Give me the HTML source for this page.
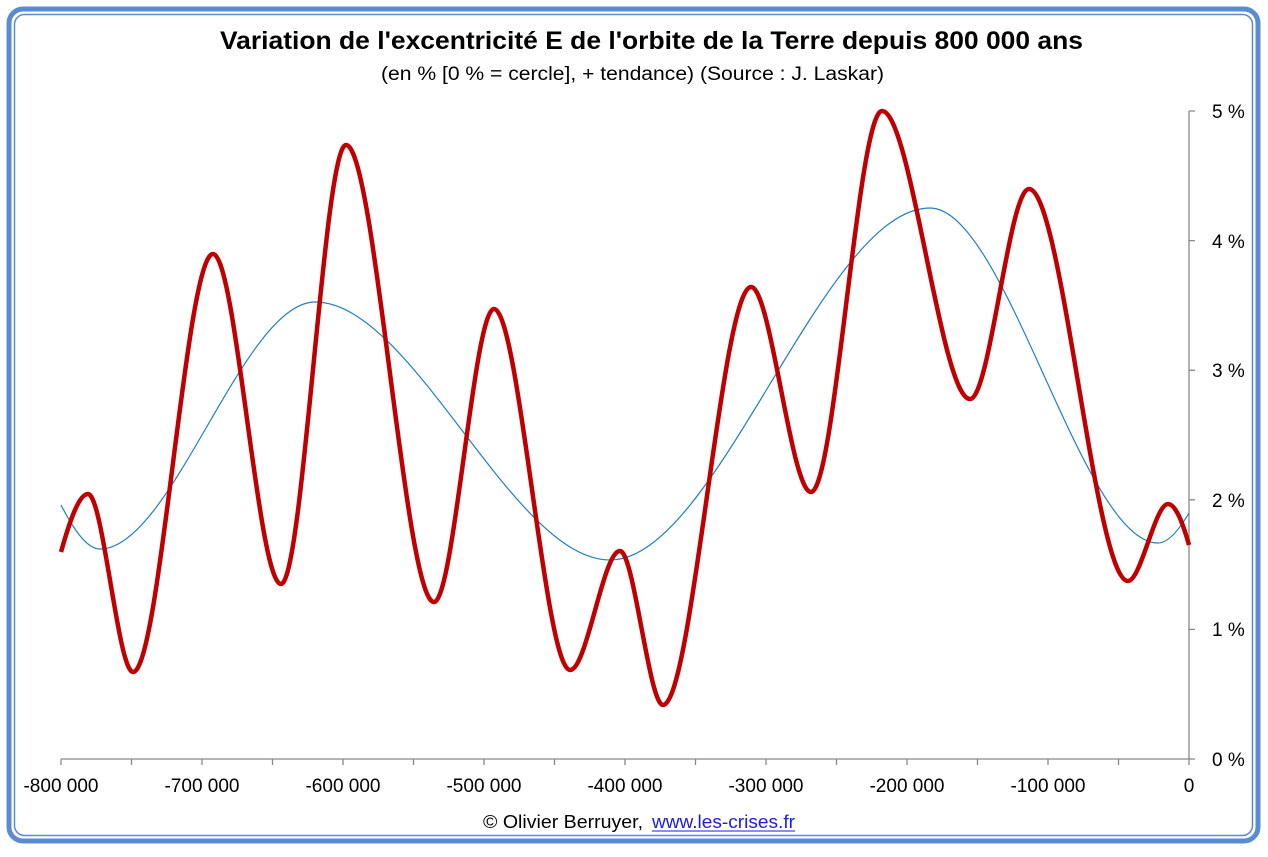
<!DOCTYPE html>
<html><head><meta charset="utf-8"><style>
body{margin:0;background:#fff;width:1268px;height:852px;overflow:hidden;font-family:"Liberation Sans",sans-serif}
</style></head><body>
<svg width="1268" height="852" xmlns="http://www.w3.org/2000/svg" font-family="Liberation Sans, sans-serif">
<rect x="0" y="0" width="1268" height="852" fill="#fff"/>
<rect x="9" y="9" width="1249" height="832" rx="14" fill="none" stroke="#5b8bd0" stroke-width="5"/>
<rect x="14.5" y="14.5" width="1238" height="821" rx="10" fill="none" stroke="#5b8bd0" stroke-width="1.5"/>
<text x="220" y="49" textLength="863" lengthAdjust="spacingAndGlyphs" font-size="25" font-weight="bold" fill="#000">Variation de l'excentricité E de l'orbite de la Terre depuis 800 000 ans</text>
<text x="381" y="80" textLength="503" lengthAdjust="spacingAndGlyphs" font-size="19" fill="#000">(en % [0 % = cercle], + tendance) (Source : J. Laskar)</text>
<g stroke="#888" stroke-width="1.3" fill="none">
<line x1="61" y1="759" x2="1195" y2="759"/>
<line x1="1189" y1="111" x2="1189" y2="765"/>
<path d="M61 759v6M131.5 759v6M202 759v6M272.5 759v6M343 759v6M413.5 759v6M484 759v6M554.5 759v6M625 759v6M695.5 759v6M766 759v6M836.5 759v6M907 759v6M977.5 759v6M1048 759v6M1118.5 759v6"/>
<path d="M1189 111h6M1189 240.6h6M1189 370.2h6M1189 499.8h6M1189 629.4h6"/>
</g>
<g font-size="19" fill="#000" text-anchor="middle">
<text x="61" y="792">-800 000</text><text x="202" y="792">-700 000</text><text x="343" y="792">-600 000</text>
<text x="484" y="792">-500 000</text><text x="625" y="792">-400 000</text><text x="766" y="792">-300 000</text>
<text x="907" y="792">-200 000</text><text x="1048" y="792">-100 000</text><text x="1189" y="792">0</text>
</g>
<g font-size="19" fill="#000">
<text x="1212" y="118">5 %</text><text x="1212" y="248">4 %</text><text x="1212" y="377">3 %</text>
<text x="1212" y="507">2 %</text><text x="1212" y="636">1 %</text><text x="1212" y="766">0 %</text>
</g>
<path fill="none" stroke="#1f7fc2" stroke-width="1.2" d="M61 505 C74 530 87 549 100 549 C172 549 243 302 315 302 C413 302 512 560 610 560 C717 560 823 208 930 208 C1006 208 1082 543 1158 543 C1168 543 1179 530 1189 513"/>
<path fill="none" stroke="#c00000" stroke-width="4.5" stroke-linejoin="round" d="M61 552 C70 520 79 494 88 494 C103 494 118 672 133 672 C160 672 186 254 213 254 C236 254 258 584 281 584 C303 584 324 145 346 145 C375 145 405 602 434 602 C454 602 474 309 494 309 C519 309 545 670 570 670 C587 670 603 551 620 551 C634 551 649 705 663 705 C692 705 722 287 751 287 C771 287 791 492 811 492 C835 492 858 111 882 111 C911 111 941 399 970 399 C990 399 1009 189 1029 189 C1062 189 1095 581 1128 581 C1141 581 1155 504 1168 504 C1175 504 1182 520 1189 545"/>
<text x="483" y="828" textLength="160" lengthAdjust="spacingAndGlyphs" font-size="18" fill="#000">© Olivier Berruyer,</text>
<text x="652" y="828" textLength="143" lengthAdjust="spacingAndGlyphs" font-size="18" fill="#1a1aee">www.les-crises.fr</text>
<line x1="652" y1="831" x2="795" y2="831" stroke="#1a1aee" stroke-width="1"/>
</svg>
</body></html>
